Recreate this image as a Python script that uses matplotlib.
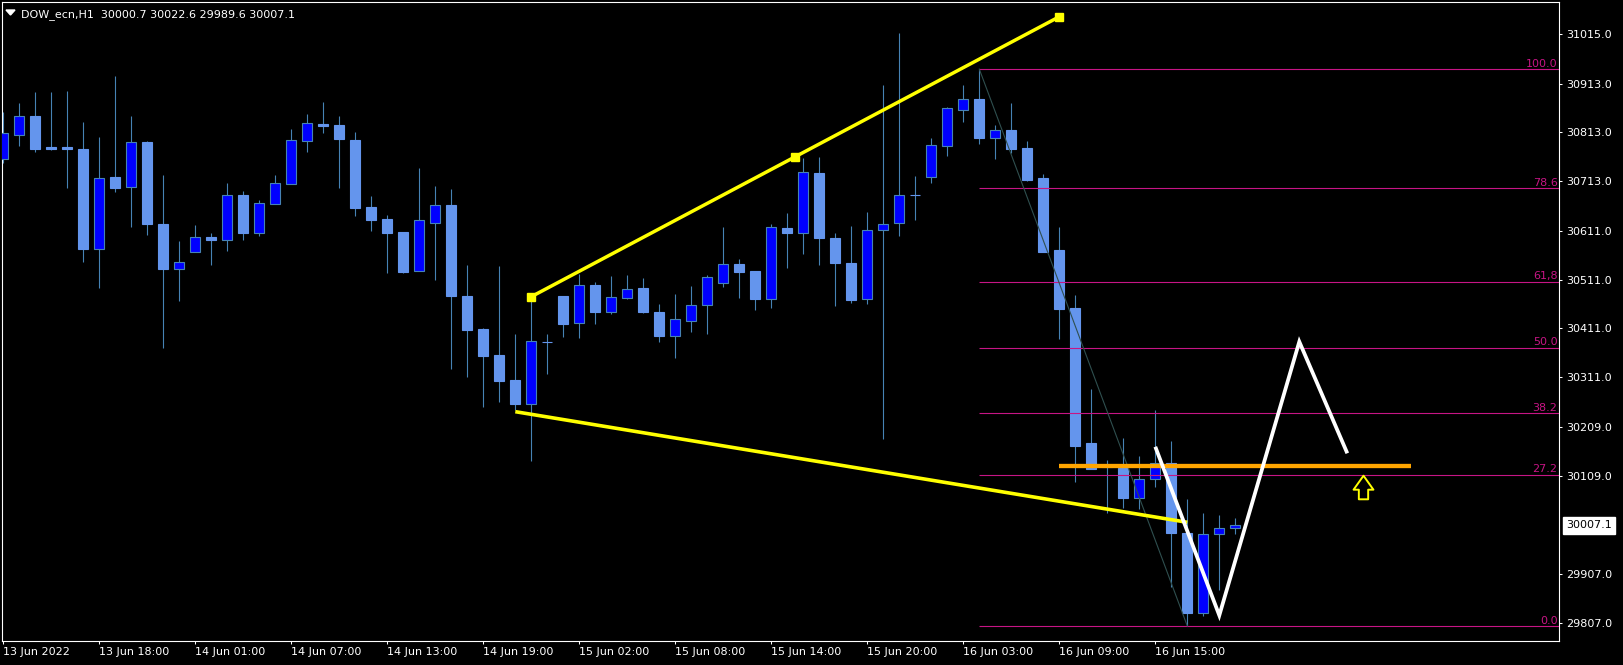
import matplotlib
matplotlib.use('Agg')
import matplotlib.pyplot as plt
import numpy as np
from matplotlib.path import Path
from matplotlib.patches import Polygon
import matplotlib.transforms as mtransforms

# ---------------- data ----------------
symbol = "DOW_ecn,H1"
opens = [30759.2, 30808.4, 30846.7, 30782.4, 30782.4, 30779.0, 30574.5, 30721.6, 30701.7, 30793.4,
         30625.1, 30533.5, 30568.3, 30598.4, 30593.0, 30684.6, 30607.3, 30666.8, 30707.9, 30796.1,
         30830.3, 30828.3, 30797.5, 30660.0, 30635.4, 30608.7, 30529.3, 30627.8, 30663.4, 30477.4,
         30409.6, 30356.3, 30305.0, 30256.4, 30382.8, 30477.4, 30422.6, 30499.9, 30445.2, 30473.3,
         30493.8, 30444.5, 30396.0, 30426.7, 30459.6, 30504.7, 30543.0, 30528.7, 30471.9, 30616.9,
         30607.3, 30729.8, 30596.4, 30545.1, 30471.9, 30613.5, 30626.5, 30684.4, 30722.2, 30785.9,
         30859.7, 30881.6, 30800.9, 30818.0, 30781.1, 30719.5, 30571.8, 30452.7, 30175.0, 30127.0,
         30125.1, 30063.5, 30101.1, 30135.3, 29991.7, 29827.5, 29988.3, 30000.7]
highs = [30855.6, 30873.4, 30896.0, 30896.0, 30898.0, 30834.4, 30803.6, 30928.8, 30846.7, 30795.4,
         30725.7, 30590.2, 30623.1, 30606.6, 30709.2, 30692.8, 30674.4, 30725.7, 30820.1, 30851.5,
         30875.5, 30846.7, 30813.9, 30682.6, 30643.6, 30608.7, 30740.0, 30703.1, 30696.9, 30541.0,
         30411.7, 30538.9, 30399.4, 30476.0, 30399.4, 30477.4, 30522.5, 30506.1, 30518.4, 30520.4,
         30514.3, 30460.9, 30481.5, 30497.9, 30520.4, 30618.9, 30553.3, 30528.7, 30625.1, 30647.7,
         30760.5, 30762.6, 30606.6, 30621.0, 30649.7, 30910.3, 31017.1, 30723.6, 30801.6, 30865.2,
         30910.3, 30943.0, 30828.3, 30873.4, 30795.4, 30727.7, 30619.0, 30479.4, 30286.5, 30140.8,
         30185.9, 30149.0, 30243.4, 30179.8, 30060.8, 30032.0, 30027.9, 30022.6]
lows = [30751.0, 30785.2, 30772.9, 30777.0, 30699.0, 30547.1, 30493.8, 30690.8, 30619.0, 30602.5,
        30371.3, 30467.1, 30568.3, 30541.0, 30569.7, 30592.3, 30600.5, 30666.8, 30707.9, 30772.9,
        30812.5, 30699.0, 30642.2, 30610.7, 30524.5, 30524.5, 30529.3, 30510.2, 30328.2, 30311.8,
        30250.3, 30259.8, 30243.4, 30139.4, 30317.3, 30393.2, 30391.2, 30419.9, 30441.1, 30471.2,
        30442.5, 30383.0, 30350.1, 30403.5, 30399.4, 30495.8, 30473.3, 30448.6, 30452.7, 30534.8,
        30563.5, 30541.0, 30456.8, 30463.0, 30460.9, 30183.9, 30600.5, 30633.3, 30709.2, 30764.7,
        30834.4, 30789.3, 30758.5, 30770.8, 30713.3, 30567.7, 30389.5, 30096.3, 30123.0, 30031.4,
        30042.3, 30040.3, 30086.1, 29879.5, 29800.2, 29820.7, 29874.0, 29989.6]
closes = [30811.2, 30846.7, 30779.0, 30779.7, 30778.3, 30574.5, 30719.5, 30699.7, 30793.4, 30625.1,
          30532.8, 30546.4, 30598.4, 30593.0, 30684.6, 30606.6, 30667.5, 30709.2, 30797.5, 30832.4,
          30826.9, 30799.5, 30658.6, 30633.3, 30606.6, 30526.6, 30632.6, 30663.4, 30477.4, 30407.6,
          30354.2, 30302.9, 30255.7, 30385.0, 30382.3, 30419.9, 30499.9, 30444.5, 30475.3, 30491.7,
          30444.5, 30395.3, 30430.2, 30458.9, 30516.3, 30543.0, 30526.6, 30471.2, 30618.9, 30606.6,
          30731.8, 30597.1, 30545.1, 30469.1, 30612.1, 30624.4, 30683.9, 30683.9, 30786.5, 30862.5,
          30880.9, 30801.6, 30817.3, 30779.7, 30715.4, 30567.7, 30451.4, 30170.2, 30123.0, 30130.0,
          30063.5, 30101.1, 30135.3, 29991.7, 29827.5, 29988.3, 30000.5, 30007.1]

xtick_labels = ["13 Jun 2022", "13 Jun 18:00", "14 Jun 01:00", "14 Jun 07:00", "14 Jun 13:00",
                "14 Jun 19:00", "15 Jun 02:00", "15 Jun 08:00", "15 Jun 14:00", "15 Jun 20:00",
                "16 Jun 03:00", "16 Jun 09:00", "16 Jun 15:00"]
ytick_values = [31015, 30913, 30813, 30713, 30611, 30511, 30411, 30311, 30209, 30109, 29907, 29807]

# Fibonacci retracement (anchors: bar index, price)
fib_start_bar, fib_high = 61, 30943.0
fib_end_bar, fib_low = 74, 29800.2
fib_ratios = [0.0, 0.272, 0.382, 0.5, 0.618, 0.786, 1.0]
fib_labels = ["0.0", "27.2", "38.2", "50.0", "61,8", "78.6", "100.0"]

# drawn objects
upper_trend_x = [33, 66]
upper_trend_y = [30476.0, 31050.5]
lower_trend_x = [32, 74]
lower_trend_y = [30240.0, 30013.0]
orange_x = [66, 88]
orange_price = 30129.1
zigzag_x = [72, 76, 81, 84]
zigzag_y = [30168.0, 29822.0, 30383.6, 30154.6]
arrow_bar, arrow_price = 85, 30086.0

# ---------------- style ----------------
BG = 'black'
WICK = '#4682B4'
BULL_FILL = '#0000FF'
BEAR_FILL = '#6495ED'
FIB_COLOR = '#C71585'

W, H = 1623, 665
fig = plt.figure(figsize=(W / 100, H / 100), dpi=100, facecolor=BG)
# plot area pixels: x 2..1559, y 2..641 (from top)
ax = fig.add_axes([2 / W, (H - 641) / H, 1557 / W, 639 / H])
ax.set_facecolor(BG)

o = np.array(opens); h = np.array(highs); l = np.array(lows); c = np.array(closes)
x = np.arange(len(o))

ax.set_xlim(-1.3 / 16, 1555.7 / 16)
ax.set_ylim(29769.4, 31080.7)

# wicks
ax.vlines(x, l, h, color=WICK, lw=0.8, zorder=2)
bull = c >= o
bear = ~bull
bw = 0.62
ax.bar(x[bull], np.maximum(c[bull] - o[bull], 0.3), bottom=o[bull], width=bw,
       color=BULL_FILL, edgecolor=WICK, linewidth=0.8, zorder=3)
ax.bar(x[bear], np.maximum(o[bear] - c[bear], 0.3), bottom=c[bear], width=bw,
       color=BEAR_FILL, edgecolor=BEAR_FILL, linewidth=0.8, zorder=3)

# Fibonacci
trans = mtransforms.blended_transform_factory(ax.transAxes, ax.transData)
for r, lab in zip(fib_ratios, fib_labels):
    lvl = fib_low + r * (fib_high - fib_low)
    ax.hlines(lvl, fib_start_bar, 200, color=FIB_COLOR, lw=0.8, zorder=4)
    ax.text(1 - 1.5 / 1557, lvl + 1.0, lab, transform=trans, ha='right', va='bottom',
            fontsize=8, color=FIB_COLOR, zorder=4)
ax.plot([fib_start_bar, fib_end_bar], [fib_high, fib_low], color='#2F4F4F', lw=0.8, zorder=4)

# trendlines
ax.plot(upper_trend_x, upper_trend_y, color='#FFFF00', lw=2.5, solid_capstyle='butt', zorder=5)
ax.plot([upper_trend_x[0], np.mean(upper_trend_x), upper_trend_x[1]],
        [upper_trend_y[0], np.mean(upper_trend_y), upper_trend_y[1]],
        linestyle='none', marker='s', ms=6, color='#FFFF00', zorder=5)
ax.plot(lower_trend_x, lower_trend_y, color='#FFFF00', lw=2.6, solid_capstyle='butt', zorder=5)
ax.plot(orange_x, [orange_price, orange_price], color='#FFA500', lw=3.1,
        solid_capstyle='butt', zorder=5)
ax.plot(zigzag_x, zigzag_y, color='white', lw=2.7, solid_joinstyle='miter',
        solid_capstyle='butt', zorder=6)

# up arrow marker
arrow_path = Path([(0, 12.65), (10.65, -2.35), (5, -2.35), (5, -12.65), (-5, -12.65),
                   (-5, -2.35), (-10.65, -2.35), (0, 12.65)], closed=True)
ax.plot([arrow_bar], [arrow_price], marker=arrow_path, ms=17, markerfacecolor='black',
        markeredgecolor='#FFFF00', markeredgewidth=1.4, linestyle='none', zorder=6)

# axes styling
for s in ax.spines.values():
    s.set_color('white')
    s.set_linewidth(0.8)
ax.yaxis.tick_right()
ax.set_yticks(ytick_values)
ax.set_yticklabels([f"{v:.1f}" for v in ytick_values])
ax.tick_params(axis='y', colors='white', length=2.2, width=0.75, pad=2.9, labelsize=8,
               direction='out')
ax.set_xticks(np.arange(0, 6 * len(xtick_labels), 6))
ax.set_xticklabels(xtick_labels)
ax.tick_params(axis='x', colors='white', length=2.5, width=0.75, pad=1.8, labelsize=8,
               direction='out')
for t in ax.get_xticklabels():
    t.set_ha('left')

# current price label
ax.text(1 + 7 / 1557, c[-1], f"{c[-1]:.1f}", transform=trans, ha='left', va='center',
        fontsize=8, color='black', clip_on=False, zorder=7,
        bbox=dict(boxstyle='square,pad=0.3', fc='white', ec='white'))

# header
fig.text(21 / W, 1 - 17.3 / H,
         f"{symbol}  {o[-1]:.1f} {h[-1]:.1f} {l[-1]:.1f} {c[-1]:.1f}",
         color='white', fontsize=8, va='baseline', ha='left')
fig.add_artist(Polygon([[6 / W, 1 - 10 / H], [15 / W, 1 - 10 / H], [10.5 / W, 1 - 15 / H]],
                       closed=True, transform=fig.transFigure, color='white'))

fig.savefig('out.png', dpi=100, facecolor=BG)
